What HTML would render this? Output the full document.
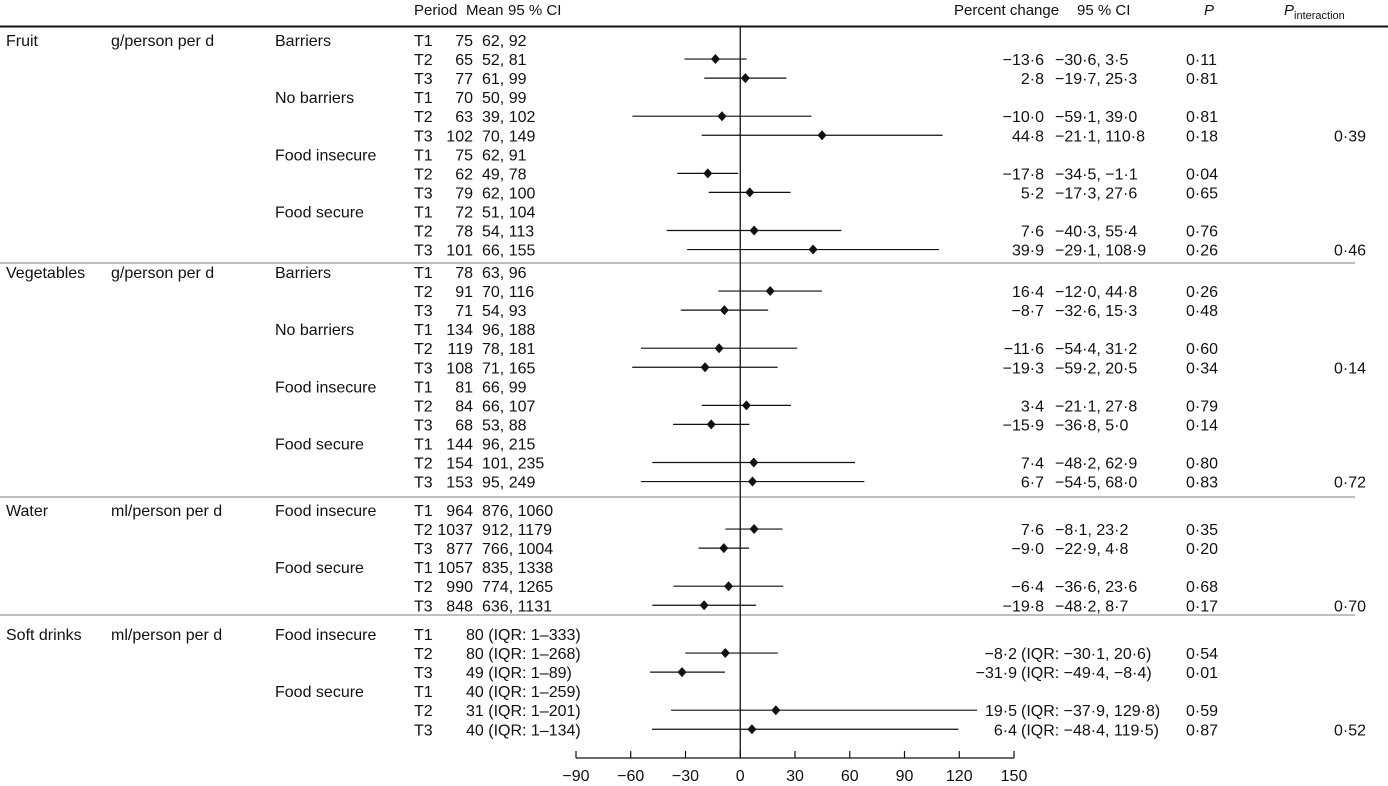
<!DOCTYPE html>
<html><head><meta charset="utf-8"><style>
html,body{margin:0;padding:0;background:#fff;}
svg{display:block;font-family:"Liberation Sans",sans-serif;font-size:16px;fill:#111;}
</style></head><body>
<svg id="chart" width="1388" height="786" viewBox="0 0 1388 786" xmlns="http://www.w3.org/2000/svg">
<g font-size="15">
<text x="414" y="15">Period</text>
<text x="466" y="15">Mean</text>
<text x="508" y="15">95 % CI</text>
<text x="954" y="15">Percent change</text>
<text x="1077" y="15">95 % CI</text>
<text x="1204" y="15" font-style="italic">P</text>
<text x="1284" y="15"><tspan font-style="italic">P</tspan><tspan font-size="11" dy="4">interaction</tspan></text>
</g>
<line x1="0" x2="1388" y1="26.5" y2="26.5" stroke="#111" stroke-width="2"/>
</svg>
<script>
const sectionNames = ["Fruit","Vegetables","Water","Soft drinks"];
const sectionUnits = ["g/person per d","g/person per d","ml/person per d","ml/person per d"];
const sectionStartY = [40,272,510,634];
const sectionGroups = [["Barriers","No barriers","Food insecure","Food secure"],["Barriers","No barriers","Food insecure","Food secure"],["Food insecure","Food secure"],["Food insecure","Food secure"]];
const meanLabels = [
 ["75","65","77","70","63","102","75","62","79","72","78","101"],
 ["78","91","71","134","119","108","81","84","68","144","154","153"],
 ["964","1037","877","1057","990","848"],
 ["80 (IQR: 1–333)","80 (IQR: 1–268)","49 (IQR: 1–89)","40 (IQR: 1–259)","31 (IQR: 1–201)","40 (IQR: 1–134)"]];
const ciLabels = [
 ["62, 92","52, 81","61, 99","50, 99","39, 102","70, 149","62, 91","49, 78","62, 100","51, 104","54, 113","66, 155"],
 ["63, 96","70, 116","54, 93","96, 188","78, 181","71, 165","66, 99","66, 107","53, 88","96, 215","101, 235","95, 249"],
 ["876, 1060","912, 1179","766, 1004","835, 1338","774, 1265","636, 1131"],
 ["","","","","",""]];
const estimates = [
 [null,-13.6,2.8,null,-10.0,44.8,null,-17.8,5.2,null,7.6,39.9],
 [null,16.4,-8.7,null,-11.6,-19.3,null,3.4,-15.9,null,7.4,6.7],
 [null,7.6,-9.0,null,-6.4,-19.8],
 [null,-8.2,-31.9,null,19.5,6.4]];
const lowers = [
 [null,-30.6,-19.7,null,-59.1,-21.1,null,-34.5,-17.3,null,-40.3,-29.1],
 [null,-12.0,-32.6,null,-54.4,-59.2,null,-21.1,-36.8,null,-48.2,-54.5],
 [null,-8.1,-22.9,null,-36.6,-48.2],
 [null,-30.1,-49.4,null,-37.9,-48.4]];
const uppers = [
 [null,3.5,25.3,null,39.0,110.8,null,-1.1,27.6,null,55.4,108.9],
 [null,44.8,15.3,null,31.2,20.5,null,27.8,5.0,null,62.9,68.0],
 [null,23.2,4.8,null,23.6,8.7],
 [null,20.6,-8.4,null,129.8,119.5]];
const pValues = [
 ["","0·11","0·81","","0·81","0·18","","0·04","0·65","","0·76","0·26"],
 ["","0·26","0·48","","0·60","0·34","","0·79","0·14","","0·80","0·83"],
 ["","0·35","0·20","","0·68","0·17"],
 ["","0·54","0·01","","0·59","0·87"]];
const pInteraction = [["0·39","0·46"],["0·14","0·72"],["0·70"],["0·52"]];
const xTicks = [-90,-60,-30,0,30,60,90,120,150];

const svg = document.getElementById('chart');
const NS = "http://www.w3.org/2000/svg";
const xMin=-90,xMax=150,pxMin=576,pxMax=1014;
function xs(v){return pxMin+(v-xMin)/(xMax-xMin)*(pxMax-pxMin);}
const step=19.05;
function fmt(v){return v.toFixed(1).replace('.','·').replace('-','−');}
function mk(tag,attrs,txt){const e=document.createElementNS(NS,tag);for(const k in attrs)e.setAttribute(k,attrs[k]);if(txt!==undefined)e.textContent=txt;svg.appendChild(e);return e;}

[263,497,615].forEach(y=>{
 const l=mk('line',{x1:0,x2:1355,y1:y,y2:y,stroke:'#aaa','stroke-width':1.5});
 
 
});
const z=mk('line',{x1:xs(0),x2:xs(0),y1:27,y2:758,stroke:'#111','stroke-width':1.3});



for(let s=0;s<sectionNames.length;s++){
 const y0=sectionStartY[s];
 let t=mk('text',{x:6,y:y0+6},sectionNames[s]);
 
 
 t=mk('text',{x:111,y:y0+6},sectionUnits[s]);
 
 
 const n=meanLabels[s].length;
 for(let i=0;i<n;i++){
  const y=y0+i*step, by=y+6;
  if(i%3===0){
   t=mk('text',{x:275,y:by},sectionGroups[s][i/3]);
   
   
  }
  t=mk('text',{x:414,y:by},'T'+(i%3+1));
  
  
  if(s===3){
   t=mk('text',{x:466,y:by},meanLabels[s][i]);
  } else {
   t=mk('text',{x:473,y:by,'text-anchor':'end'},meanLabels[s][i]);
   const c=mk('text',{x:482,y:by},ciLabels[s][i]);
   
   
  }
  
  
  const e=estimates[s][i];
  if(e!==null){
   const lo=lowers[s][i],hi=uppers[s][i];
   const l=mk('line',{x1:xs(lo),x2:xs(hi),y1:y,y2:y,stroke:'#111','stroke-width':1.2});
   
   
   const cx=xs(e);
   const d=mk('polygon',{points:`${cx},${y-5} ${cx+4.5},${y} ${cx},${y+5} ${cx-4.5},${y}`,fill:'#111'});
   
   
   if(s===3){
    t=mk('text',{x:1017,y:by,'text-anchor':'end'},fmt(e));
    
    
    t=mk('text',{x:1021,y:by},'(IQR: '+fmt(lo)+', '+fmt(hi)+')');
    
    
   } else {
    t=mk('text',{x:1044,y:by,'text-anchor':'end'},fmt(e));
    
    
    t=mk('text',{x:1055,y:by},fmt(lo)+', '+fmt(hi));
    
    
   }
   t=mk('text',{x:1186,y:by},pValues[s][i]);
   
   
  }
  if(i%6===5){
   t=mk('text',{x:1366,y:by,'text-anchor':'end'},pInteraction[s][(i-5)/6]);
   
   
  }
 }
}
const ax=mk('line',{x1:xs(xMin),x2:xs(xMax),y1:758,y2:758,stroke:'#111','stroke-width':1.3});


xTicks.forEach(v=>{
 const tk=mk('line',{x1:xs(v),x2:xs(v),y1:751,y2:758,stroke:'#111','stroke-width':1.2});
 
 
 const lb=mk('text',{x:xs(v),y:781,'text-anchor':'middle'},v<0?'−'+Math.abs(v):String(v));
 
 
});
</script>
</body></html>
